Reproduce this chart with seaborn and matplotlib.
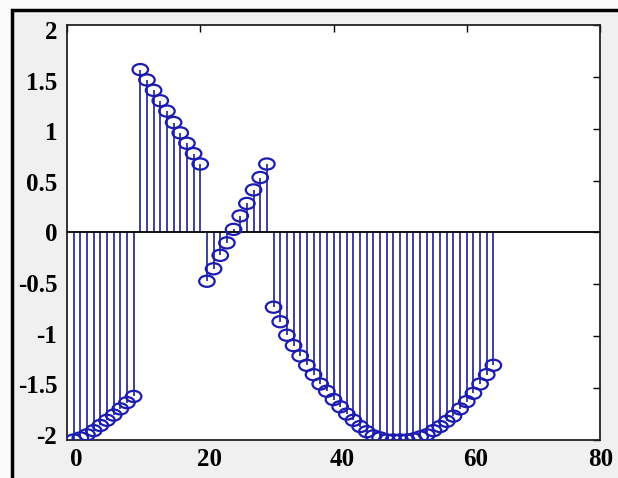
import numpy as np
import matplotlib
matplotlib.use("Agg")
import matplotlib.pyplot as plt
from matplotlib.path import Path
from matplotlib.patches import Rectangle
from matplotlib.transforms import ScaledTranslation
import seaborn as sns

# stem plot of a 64-sample signal, four pieces
seg1 = [-2.00, -1.98, -1.95, -1.91, -1.86, -1.81, -1.76, -1.70, -1.64, -1.58]
seg2 = [1.57, 1.47, 1.37, 1.27, 1.17, 1.06, 0.96, 0.86, 0.76, 0.66]
seg3 = [-0.47, -0.35, -0.22, -0.10, 0.03, 0.16, 0.28, 0.41, 0.53, 0.66]
seg4 = [-0.72, -0.86, -0.99, -1.09, -1.19, -1.28, -1.37, -1.46, -1.53, -1.61,
        -1.68, -1.75, -1.81, -1.87, -1.92, -1.96, -1.98, -2.00, -2.00, -2.00,
        -2.00, -1.99, -1.97, -1.95, -1.91, -1.87, -1.82, -1.77, -1.70, -1.63,
        -1.55, -1.46, -1.37, -1.28]
values = np.array(seg1 + seg2 + seg3 + seg4)
n = np.arange(1, len(values) + 1)

xticks = [0, 20, 40, 60, 80]
yticks = [-2, -1.5, -1, -0.5, 0, 0.5, 1, 1.5, 2]
ytick_labels = ["-2", "-1.5", "-1", "-0.5", "0", "0.5", "1", "1.5", "2"]

sns.set_style("white")
plt.rcParams["font.family"] = ["Liberation Serif", "DejaVu Serif"]
plt.rcParams["font.weight"] = "bold"

fig = plt.figure(figsize=(6.18, 4.78), dpi=100, facecolor="#fbfbfb")
# grey window with a black frame on top and left
fig.add_artist(Rectangle((12 / 618, -0.1), 1.2, 1.1 - 10 / 478,
                         transform=fig.transFigure, facecolor="#f0f0f0",
                         edgecolor="black", linewidth=2.5, zorder=0))

ax = fig.add_axes([67 / 618, 1 - 440 / 478, 533 / 618, 415 / 478])
ax.set_facecolor("white")

ax.vlines(n, 0, values, colors="#40409c", linewidth=1.4, zorder=2)
ax.axhline(0, color="black", linewidth=1.3, zorder=3)

circ = Path.unit_circle()
ellipse = Path(circ.vertices * np.array([1.0, 0.72]), circ.codes)
sns.scatterplot(x=n, y=values, ax=ax, marker=ellipse, s=125,
                facecolor="none", edgecolor="#1c1cb0", linewidth=1.6,
                zorder=4, legend=False)

ax.set_xlim(0, 80)
ax.set_ylim(-2, 2)
ax.set_xticks(xticks)
ax.set_yticks(yticks)
ax.set_yticklabels(ytick_labels)
ax.tick_params(direction="in", length=5, width=1, top=True, right=True,
               labelsize=18, colors="black")
ax.tick_params(axis="y", pad=7)
ax.tick_params(axis="x", pad=6)
xlabs = ax.get_xticklabels()
for i, lab in enumerate(xlabs):
    lab.set_fontweight("bold")
    dx = 9 if i < len(xlabs) - 1 else 1
    lab.set_transform(lab.get_transform() + ScaledTranslation(dx / 100, 0, fig.dpi_scale_trans))
# labels sit slightly toward the middle in the original
for lab, v in zip(ax.get_yticklabels(), yticks):
    lab.set_fontweight("bold")
    lab.set_transform(lab.get_transform() + ScaledTranslation(0, -v * 2.5 / 100, fig.dpi_scale_trans))

for sp in ax.spines.values():
    sp.set_color("#222222")
    sp.set_linewidth(1.3)

ax.set_xlabel("")
ax.set_ylabel("")

fig.savefig("out.png", dpi=100, facecolor=fig.get_facecolor())
